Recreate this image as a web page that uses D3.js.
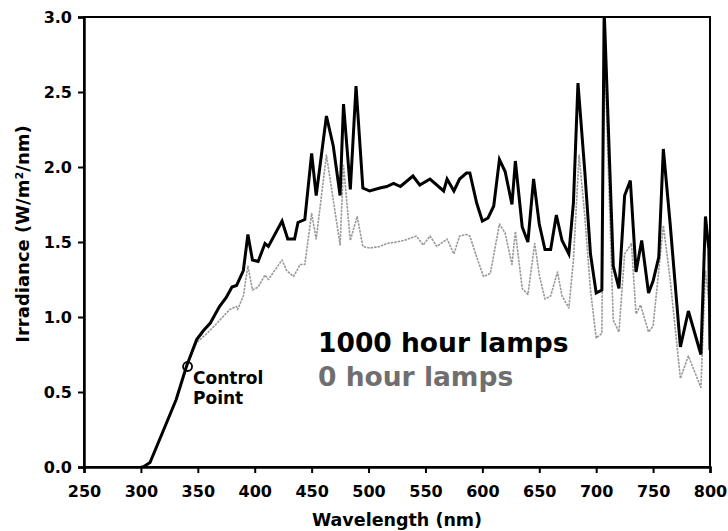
<!DOCTYPE html>
<html>
<head>
<meta charset="utf-8">
<script src="https://cdn.jsdelivr.net/npm/d3@7"></script>
<style>
  html, body { margin: 0; padding: 0; background: #fff; }
  svg text { font-family: "DejaVu Sans", sans-serif; font-weight: bold; }
</style>
</head>
<body>
<svg id="chart" width="728" height="531"></svg>
<script>
// ---- data ----
const xTicks = [250, 300, 350, 400, 450, 500, 550, 600, 650, 700, 750, 800];
const yTicks = [0.0, 0.5, 1.0, 1.5, 2.0, 2.5, 3.0];

const wl1000 = [300,302,308,319,331,340,349,355,361,369,375,380,384,390,394,398,403,409,412,424,429,435,438,444,
  450,454,463,469,475,478,484,489,495,501,510,516,522,528,539,545,554,566,569,575,580,586,589,595,600,605,610,
  615,620,626,629,635,640,645,650,655,660,665,670,676,680,684,690,695,700,705,707,715,720,725,730,735,740,746,
  750,755,759,765,774,781,792,796,799,800];
const irr1000 = [0,0,0.03,0.23,0.45,0.67,0.85,0.91,0.96,1.07,1.13,1.20,1.21,1.31,1.55,1.38,1.37,1.49,1.47,1.64,1.52,1.52,1.63,1.65,
  2.09,1.81,2.34,2.14,1.81,2.42,1.85,2.54,1.86,1.84,1.86,1.87,1.89,1.87,1.94,1.88,1.92,1.84,1.92,1.84,1.92,1.96,1.96,1.76,1.64,1.66,1.74,
  2.05,1.97,1.75,2.04,1.60,1.50,1.92,1.62,1.45,1.45,1.68,1.51,1.42,1.76,2.56,1.97,1.42,1.16,1.18,3.05,1.34,1.19,1.81,1.91,1.30,1.51,1.16,
  1.24,1.40,2.12,1.62,0.80,1.04,0.75,1.67,1.45,0.78];

const wl0 = [300,302,308,319,331,340,349,358,367,378,384,385,390,394,398,403,409,412,424,428,434,440,444,
  450,454,463,469,475,478,484,490,495,501,510,516,525,531,542,548,554,560,569,575,580,586,589,595,601,607,
  615,620,626,629,635,640,646,650,655,660,666,670,676,680,685,690,695,700,705,707,715,720,725,731,735,739,746,
  750,759,765,774,781,792,796,799,800];
const irr0 = [0,0,0.03,0.23,0.45,0.67,0.83,0.89,0.96,1.05,1.07,1.05,1.14,1.34,1.18,1.20,1.28,1.25,1.38,1.31,1.27,1.35,1.35,
  1.69,1.52,2.08,1.78,1.48,2.01,1.51,1.67,1.47,1.46,1.47,1.49,1.50,1.51,1.54,1.48,1.54,1.47,1.52,1.42,1.54,1.55,1.54,1.40,1.27,1.29,
  1.62,1.56,1.35,1.57,1.19,1.15,1.49,1.28,1.12,1.14,1.30,1.14,1.06,1.38,2.08,1.67,1.18,0.86,0.89,2.85,0.98,0.90,1.42,1.49,1.02,1.08,0.90,
  0.94,1.61,1.25,0.59,0.74,0.53,1.31,1.11,0.80];

const controlPoint = [341, 0.67];
const legendLabels = ["1000 hour lamps", "0 hour lamps"];
const xTitle = "Wavelength (nm)";
const yTitle = "Irradiance (W/m²/nm)";

// ---- layout ----
const svg = d3.select("#chart");
const L = 84, R = 710, T = 17, B = 467;
const x = d3.scaleLinear().domain([250, 800]).range([L, R]);
const y = d3.scaleLinear().domain([0, 3]).range([B, T]);

svg.append("defs").append("clipPath").attr("id", "clip")
  .append("rect").attr("x", L).attr("y", T).attr("width", R - L).attr("height", B - T);

const line = d3.line().x(d => x(d[0])).y(d => y(d[1]));
const s0 = wl0.map((w, i) => [w, irr0[i]]);
const s1 = wl1000.map((w, i) => [w, irr1000[i]]);

const plot = svg.append("g").attr("clip-path", "url(#clip)");
plot.append("path").datum(s0).attr("d", line)
  .attr("fill", "none").attr("stroke", "#999").attr("stroke-width", 1.6)
  .attr("stroke-dasharray", "2.5,1").attr("stroke-linejoin", "round");
plot.append("path").datum(s1).attr("d", line)
  .attr("fill", "none").attr("stroke", "#000").attr("stroke-width", 3)
  .attr("stroke-linejoin", "miter");

// frame
svg.append("rect").attr("x", L).attr("y", T).attr("width", R - L).attr("height", B - T)
  .attr("fill", "none").attr("stroke", "#000").attr("stroke-width", 2);

// axes
const xAxis = d3.axisBottom(x).tickValues(xTicks).tickFormat(d3.format("d")).tickSize(6).tickPadding(13);
const gx = svg.append("g").attr("transform", `translate(0,${B})`).call(xAxis);
const yAxis = d3.axisLeft(y).tickValues(yTicks).tickFormat(d3.format(".1f")).tickSize(6).tickPadding(6);
const gy = svg.append("g").attr("transform", `translate(${L},0)`).call(yAxis);
[gx, gy].forEach(g => {
  g.select(".domain").attr("stroke", "#000").attr("stroke-width", 2.5);
  g.selectAll(".tick line").attr("stroke", "#000").attr("stroke-width", 2);
  g.selectAll(".tick text").attr("fill", "#000").style("font-size", "16px")
    .style("font-family", "DejaVu Sans").style("font-weight", "bold");
});

// axis titles
svg.append("text").attr("x", (L + R) / 2).attr("y", 526).attr("text-anchor", "middle")
  .style("font-size", "17.5px").text(xTitle);
svg.append("text").attr("transform", `translate(29,234) rotate(-90)`).attr("text-anchor", "middle")
  .style("font-size", "18px").text(yTitle);

// control point
svg.append("circle").attr("cx", x(controlPoint[0])).attr("cy", y(controlPoint[1])).attr("r", 4.5)
  .attr("fill", "none").attr("stroke", "#000").attr("stroke-width", 1.8);
svg.append("text").attr("x", 193).attr("y", 384).style("font-size", "17px").text("Control");
svg.append("text").attr("x", 193).attr("y", 404).style("font-size", "17px").text("Point");

// legend
svg.append("text").attr("x", 318).attr("y", 352).style("font-size", "26.5px").attr("fill", "#000").text(legendLabels[0]);
svg.append("text").attr("x", 318).attr("y", 386).style("font-size", "26.5px").attr("fill", "#6f6f6f").text(legendLabels[1]);
</script>
</body>
</html>
